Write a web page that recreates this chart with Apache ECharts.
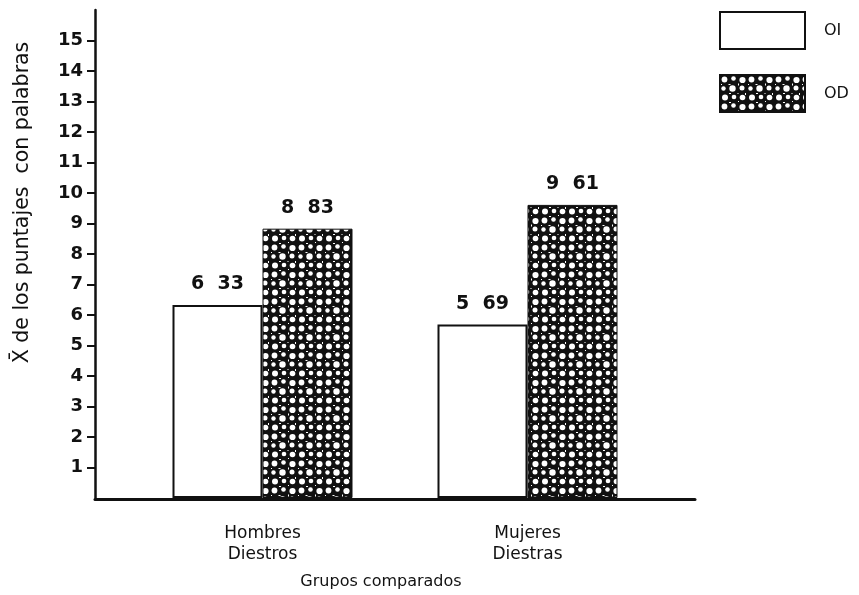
<!DOCTYPE html>
<html>
<head>
<meta charset="utf-8">
<script src="https://cdn.jsdelivr.net/npm/echarts@6/dist/echarts.min.js"></script>
<style>html,body{margin:0;padding:0;background:#fff}#c{width:859px;height:595px}</style>
</head>
<body>
<div id="c"></div>
<script>
var categories = ['Hombres\nDiestros', 'Mujeres\nDiestras'];
var seriesNames = ['OI', 'OD'];
var oiValues = [6.33, 5.69];
var odValues = [8.83, 9.61];
var yTickValues = [1, 2, 3, 4, 5, 6, 7, 8, 9, 10, 11, 12, 13, 14, 15];

// texture for the OD bars: black with irregular white dots
var tile = document.createElement('canvas');
tile.width = 27; tile.height = 27;
var g = tile.getContext('2d');
g.fillStyle = '#111';
g.fillRect(0, 0, 27, 27);
g.fillStyle = '#fff';
var dots = [[4.5, 4.5, 2.9], [13.5, 3.5, 2.3], [22.5, 5, 3.1], [3.5, 13.5, 2.2], [12.5, 13.5, 3.2],
            [22, 13, 2.5], [5, 22.5, 3.0], [14, 22, 2.3], [22.5, 22.5, 2.8]];
dots.forEach(function (c) {
  g.beginPath(); g.arc(c[0], c[1], c[2], 0, Math.PI * 2); g.fill();
});
[[8.5, 9, 2, 1], [18, 8.5, 1, 2], [9, 18, 2, 1], [17.5, 18, 1, 1], [1, 9, 1, 1], [25, 18, 1, 2], [9, 0, 2, 1], [18, 26, 1, 1]].forEach(function (r) {
  g.fillRect(r[0], r[1], r[2], r[3]);
});
var pattern = { image: tile, repeat: 'repeat' };

function fmt(p) { return p.value.toFixed(2).replace('.', '  '); }

var FONT = 'DejaVu Sans, Liberation Sans, sans-serif';
var chart = echarts.init(document.getElementById('c'), null, { renderer: 'canvas' });
chart.setOption({
  backgroundColor: '#fff',
  animation: false,
  textStyle: { fontFamily: FONT, color: '#111' },
  legend: {
    orient: 'vertical', left: 714, top: 6,
    itemWidth: 85, itemHeight: 37, itemGap: 24,
    icon: 'rect',
    data: seriesNames,
    textStyle: { fontFamily: FONT, fontSize: 16, color: '#111', padding: [0, 0, 0, 14] }
  },
  grid: [
    { left: 130, width: 530, top: 10, bottom: 96 },
    { left: 95, width: 600, top: 10, bottom: 96 }
  ],
  xAxis: [
    {
      type: 'category', gridIndex: 0, data: categories,
      axisLine: { show: false }, axisTick: { show: false },
      axisLabel: { fontFamily: FONT, fontSize: 17, lineHeight: 21, margin: 25, color: '#111' },
      name: 'Grupos comparados', nameLocation: 'middle', nameGap: 76,
      nameTextStyle: { fontFamily: FONT, fontSize: 16, color: '#111', padding: [0, 28, 0, 0] }
    },
    {
      type: 'value', gridIndex: 1, min: 0, max: 1,
      axisLine: { show: true, lineStyle: { color: '#111', width: 3 } },
      axisTick: { show: false }, axisLabel: { show: false }, splitLine: { show: false }
    }
  ],
  yAxis: [
    {
      type: 'value', gridIndex: 0, min: 0, max: 16, interval: 1, offset: 35,
      axisLine: { show: true, lineStyle: { color: '#111', width: 2.5 } },
      axisTick: { show: true, length: 8, customValues: yTickValues, lineStyle: { color: '#111', width: 2 } },
      axisLabel: { customValues: yTickValues, fontFamily: FONT, fontSize: 18, fontWeight: 'bold', margin: 12, color: '#111' },
      splitLine: { show: false },
      name: 'X\u0304 de los puntajes  con palabras', nameLocation: 'middle', nameGap: 62,
      nameTextStyle: { fontFamily: FONT, fontSize: 20.5, color: '#111', padding: [0, 0, 0, 103] }
    },
    { type: 'value', gridIndex: 1, show: false, min: 0, max: 16 }
  ],
  series: [
    {
      name: seriesNames[0], type: 'bar', data: oiValues, barWidth: 90, barGap: '0%',
      itemStyle: { color: '#fff', borderColor: '#111', borderWidth: 2 },
      label: { show: true, position: 'top', distance: 11, fontFamily: FONT, fontSize: 19, fontWeight: 'bold', color: '#111', formatter: fmt }
    },
    {
      name: seriesNames[1], type: 'bar', data: odValues, barWidth: 90,
      itemStyle: { color: pattern, borderColor: '#111', borderWidth: 1 },
      label: { show: true, position: 'top', distance: 11, fontFamily: FONT, fontSize: 19, fontWeight: 'bold', color: '#111', formatter: fmt }
    }
  ]
});
</script>
</body>
</html>
